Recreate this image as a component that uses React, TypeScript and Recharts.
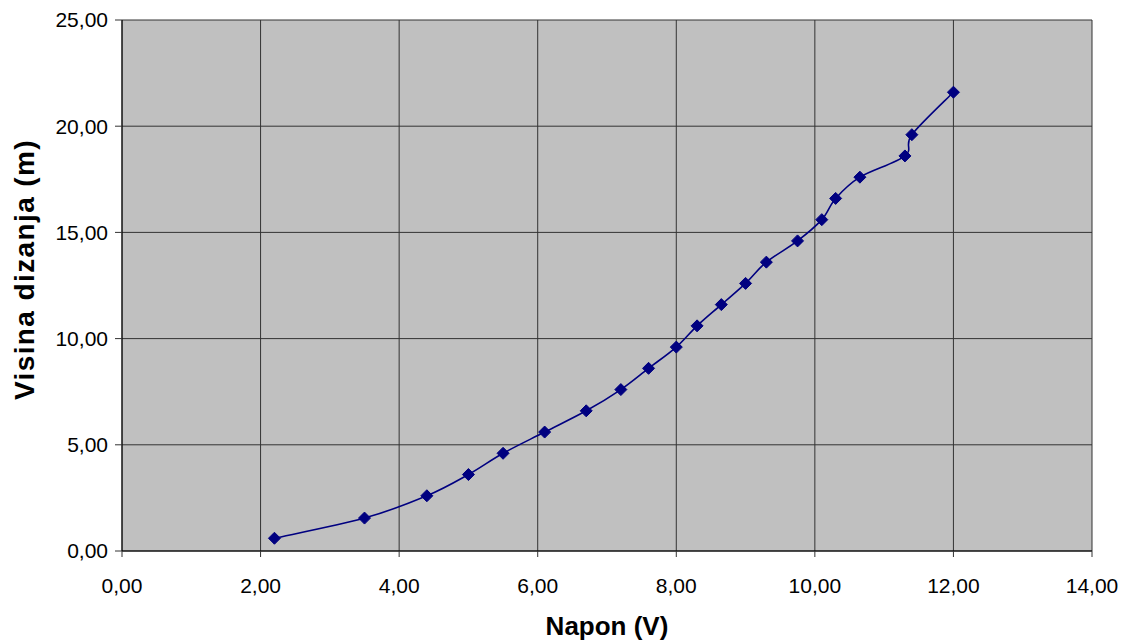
import { LineChart, Line, XAxis, YAxis, CartesianGrid, Label } from 'recharts'

const napon = [2.2, 3.5, 4.4, 5.0, 5.5, 6.1, 6.7, 7.2, 7.6, 8.0, 8.3, 8.65, 9.0, 9.3, 9.75, 10.1, 10.3, 10.65, 11.3, 11.4, 12.0]
const visina = [0.6, 1.55, 2.6, 3.6, 4.6, 5.6, 6.6, 7.6, 8.6, 9.6, 10.6, 11.6, 12.6, 13.6, 14.6, 15.6, 16.6, 17.6, 18.6, 19.6, 21.6]
const xTicks = [0, 2, 4, 6, 8, 10, 12, 14]
const yTicks = [0, 5, 10, 15, 20, 25]

const data = napon.map((x, i) => ({ x, y: visina[i] }))

const NAVY = '#000080'
const FONT = 'Arial, "Liberation Sans", sans-serif'
const fmt = (v: number) => v.toFixed(2).replace('.', ',')

// Excel-like smoothed line (Catmull-Rom through the points)
function smoothCurve(context: any) {
  let pts: [number, number][] = []
  return {
    areaStart() {},
    areaEnd() {},
    lineStart() { pts = [] },
    lineEnd() {
      if (!pts.length) return
      context.moveTo(pts[0][0], pts[0][1])
      for (let i = 0; i < pts.length - 1; i++) {
        const p0 = pts[i - 1] || pts[i]
        const p1 = pts[i]
        const p2 = pts[i + 1]
        const p3 = pts[i + 2] || p2
        context.bezierCurveTo(
          p1[0] + (p2[0] - p0[0]) / 6, p1[1] + (p2[1] - p0[1]) / 6,
          p2[0] - (p3[0] - p1[0]) / 6, p2[1] - (p3[1] - p1[1]) / 6,
          p2[0], p2[1]
        )
      }
    },
    point(x: number, y: number) { pts.push([+x, +y]) },
  }
}

const Diamond = (props: any) => {
  const { cx, cy, index } = props
  const r = 6
  return (
    <path
      key={index}
      d={`M${cx},${cy - r}L${cx + r},${cy}L${cx},${cy + r}L${cx - r},${cy}Z`}
      fill={NAVY}
      stroke={NAVY}
      strokeWidth={1}
    />
  )
}

const tickStyle = { fill: '#000', fontSize: 21, fontFamily: FONT }

export default function App() {
  return (
    <div style={{ position: 'absolute', left: 0, top: 0, width: 1128, height: 642, background: '#fff' }}>
      <LineChart width={1128} height={642} data={data} margin={{ top: 20, right: 36, left: 0, bottom: 0 }}>
        <CartesianGrid stroke="#333" strokeWidth={1} fill="#C0C0C0" fillOpacity={1} />
        <XAxis
          type="number"
          dataKey="x"
          domain={[0, 14]}
          ticks={xTicks}
          tickFormatter={fmt}
          height={91}
          tickSize={6}
          tickMargin={21}
          stroke="#000"
          tick={tickStyle}
          tickLine={{ stroke: '#333' }}
        >
          <Label
            value="Napon (V)"
            position="insideBottom"
            offset={7}
            style={{ fontSize: 26, fontWeight: 'bold', fill: '#000', fontFamily: FONT }}
          />
        </XAxis>
        <YAxis
          type="number"
          dataKey="y"
          domain={[0, 25]}
          ticks={yTicks}
          tickFormatter={fmt}
          width={122}
          tickSize={7}
          tickMargin={7}
          stroke="#000"
          tick={tickStyle}
          tickLine={{ stroke: '#333' }}
        >
          <Label
            content={(p: any) => {
              const vb = p.viewBox || { x: 0, y: 20, height: 531 }
              const cx = vb.x + 24
              const cy = vb.y + vb.height / 2 - 16
              return (
                <text
                  x={cx}
                  y={cy}
                  dy="0.35em"
                  textAnchor="middle"
                  transform={`rotate(-90 ${cx} ${cy})`}
                  style={{ fontSize: 28, letterSpacing: 1.4, fontWeight: 'bold', fill: '#000', fontFamily: FONT }}
                >
                  Visina dizanja (m)
                </text>
              )
            }}
          />
        </YAxis>
        <Line
          type={smoothCurve as any}
          dataKey="y"
          stroke={NAVY}
          strokeWidth={1.6}
          dot={Diamond}
          activeDot={false}
          isAnimationActive={false}
        />
      </LineChart>
    </div>
  )
}
